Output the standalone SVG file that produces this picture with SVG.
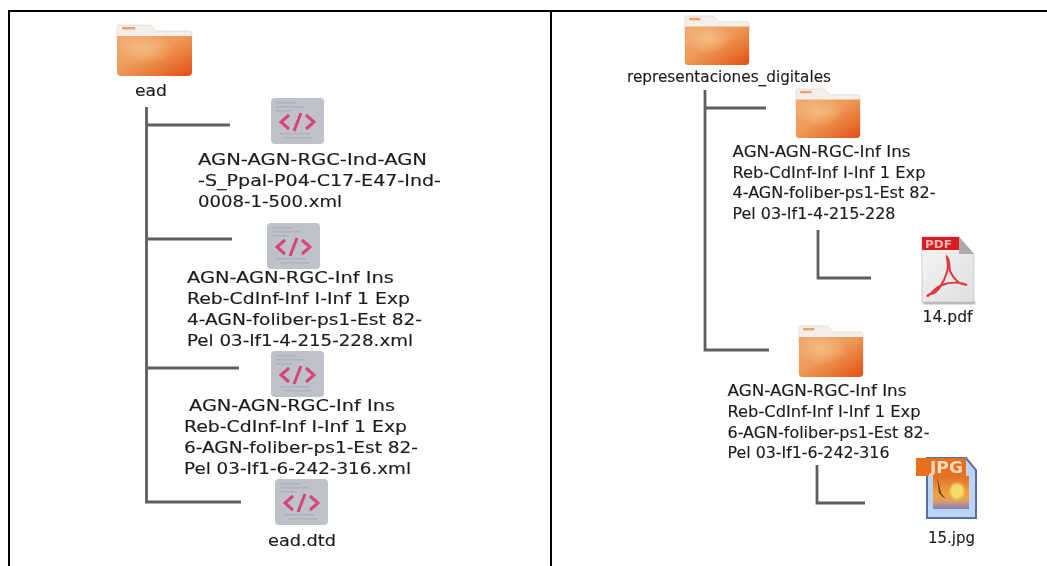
<svg xmlns="http://www.w3.org/2000/svg" width="1047" height="566" viewBox="0 0 1047 566">
<style>
text{font-family:"DejaVu Sans",sans-serif;font-size:16px;fill:#1c1c1c;stroke:#1c1c1c;stroke-width:.15}
.c{stroke:#5e5e5e;stroke-width:2.800;fill:none}
.b{stroke:#000;stroke-width:2;fill:none}
.pg{fill:#bfc1cb}
.code{fill:none;stroke:#d8437f;stroke-width:3}
.t{fill:#aeb1bc}
</style>
<defs>
<filter id="soft" x="-2%" y="-2%" width="104%" height="104%"><feGaussianBlur stdDeviation="0.55"/></filter>
<filter id="soft2" x="-10%" y="-10%" width="120%" height="120%"><feGaussianBlur stdDeviation="0.8"/></filter>
<linearGradient id="fg" x1="0" y1="0" x2="1" y2="1"><stop offset="0" stop-color="#f0a871"/><stop offset=".45" stop-color="#ee9a58"/><stop offset=".7" stop-color="#e97a38"/><stop offset="1" stop-color="#e04f14"/></linearGradient>
<radialGradient id="gl" cx=".35" cy=".3" r=".4"><stop offset="0" stop-color="#f5c68c" stop-opacity=".75"/><stop offset="1" stop-color="#f5c68c" stop-opacity="0"/></radialGradient>
<linearGradient id="pdfg" x1="0" y1="0" x2="1" y2="1"><stop offset="0" stop-color="#f6f6f6"/><stop offset="1" stop-color="#dedede"/></linearGradient>
<linearGradient id="jg" x1="0" y1="0" x2="0" y2="1"><stop offset="0" stop-color="#e0702c"/><stop offset=".55" stop-color="#f2a23c"/><stop offset=".75" stop-color="#e0a060"/><stop offset="1" stop-color="#7f7cc4"/></linearGradient>
<symbol id="folder" viewBox="0 0 76 52" overflow="visible" preserveAspectRatio="none">
<path d="M2 1h32l6 6h32a3 3 0 0 1 3 3v8H1V2z" fill="#f3efeb" stroke="#ddd0c4" stroke-width=".6"/>
<rect x="6" y="3" width="13" height="2.500" fill="#eea26a"/>
<path d="M1 12h74v36a4 4 0 0 1-4 4H5a4 4 0 0 1-4-4z" fill="url(#fg)"/>
<path d="M1 12h74v36a4 4 0 0 1-4 4H5a4 4 0 0 1-4-4z" fill="url(#gl)"/>
</symbol>
<symbol id="xml" viewBox="0 0 53 46" overflow="visible">
<rect width="53" height="46" rx="4" class="pg"/>
<path class="t" d="M5 4h20v1.500H5zM5 8h28v1.500H5zM5 12h16v1.500H5zM9 35h30v1.500H9zM14 39h28v1.500H14z"/>
<path class="code" d="M18 17l-8 7 8 7M35 17l8 7-8 7M30 15l-7 18"/>
</symbol>
</defs>
<g id="frame"><path class="b" d="M9 566V11H1047M551 11V566"/></g>
<g filter="url(#soft)">
<g id="connectors">
<path class="c" d="M146.500 107V502H241M146.500 125H230M146.500 239H232M146.500 368H239"/>
<path class="c" d="M705 90V350H769M705 108H766M818 230V278H871M817 465V503H865"/>
</g>
<g id="ead"><use href="#folder" x="116" y="24" width="77" height="52"/><text x="135" y="96" textLength="32" lengthAdjust="spacingAndGlyphs">ead</text></g>
<g id="xml1"><use href="#xml" x="271" y="98" width="53" height="46"/><text x="198" y="165" textLength="229" lengthAdjust="spacingAndGlyphs">AGN-AGN-RGC-Ind-AGN</text><text x="198" y="186" textLength="243" lengthAdjust="spacingAndGlyphs">-S_Ppal-P04-C17-E47-Ind-</text><text x="198" y="207" textLength="144" lengthAdjust="spacingAndGlyphs">0008-1-500.xml</text></g>
<g id="xml2"><use href="#xml" x="267" y="223" width="53" height="46"/><text x="187" y="283" textLength="207" lengthAdjust="spacingAndGlyphs">AGN-AGN-RGC-Inf Ins</text><text x="187" y="304" textLength="223" lengthAdjust="spacingAndGlyphs">Reb-CdInf-Inf I-Inf 1 Exp</text><text x="187" y="325" textLength="235" lengthAdjust="spacingAndGlyphs">4-AGN-foliber-ps1-Est 82-</text><text x="187" y="346" textLength="226" lengthAdjust="spacingAndGlyphs">Pel 03-If1-4-215-228.xml</text></g>
<g id="xml3"><use href="#xml" x="271" y="351" width="53" height="46"/><text x="189" y="411" textLength="206" lengthAdjust="spacingAndGlyphs">AGN-AGN-RGC-Inf Ins</text><text x="184" y="432" textLength="223" lengthAdjust="spacingAndGlyphs">Reb-CdInf-Inf I-Inf 1 Exp</text><text x="184" y="453" textLength="234" lengthAdjust="spacingAndGlyphs">6-AGN-foliber-ps1-Est 82-</text><text x="184" y="474" textLength="227" lengthAdjust="spacingAndGlyphs">Pel 03-If1-6-242-316.xml</text></g>
<g id="dtd"><use href="#xml" x="275" y="479" width="53" height="46"/><text x="268" y="546" textLength="68" lengthAdjust="spacingAndGlyphs">ead.dtd</text></g>
<g id="repdig"><use href="#folder" x="684" y="15" width="66" height="50"/><text x="627" y="82" textLength="204" lengthAdjust="spacingAndGlyphs">representaciones_digitales</text></g>
<g id="f1"><use href="#folder" x="795" y="88" width="66" height="50"/><text x="732.500" y="157" textLength="178" lengthAdjust="spacingAndGlyphs">AGN-AGN-RGC-Inf Ins</text><text x="732.500" y="178" textLength="193" lengthAdjust="spacingAndGlyphs">Reb-CdInf-Inf I-Inf 1 Exp</text><text x="732.500" y="198" textLength="203" lengthAdjust="spacingAndGlyphs">4-AGN-foliber-ps1-Est 82-</text><text x="732.500" y="219" textLength="163" lengthAdjust="spacingAndGlyphs">Pel 03-If1-4-215-228</text></g>
<g id="pdf">
<path d="M923 304h52v-3h-52z" fill="#999" filter="url(#soft2)"/>
<path d="M922 237h37l15 17v48h-52z" fill="url(#pdfg)" stroke="#cfcfcf"/>
<path d="M959 237l15 17h-15z" fill="#a9a9a9"/>
<rect x="922" y="237" width="37" height="13" fill="#d81e20"/>
<text x="925" y="248" textLength="27" lengthAdjust="spacingAndGlyphs" style="font-size:11px;font-weight:bold;fill:#f3b8b8;stroke:none">PDF</text>
<path d="M931 294c7-1 13-12 16-22 2-6 0-12 0-15 3 3 2 10 3 14 3 7 9 14 17 14-7-3-17-3-25 0-6 2-10 8-14 11-2 0 1-2 3-2z" fill="none" stroke="#e2383a" stroke-width="2"/>
<text x="922.500" y="322" textLength="50" lengthAdjust="spacingAndGlyphs">14.pdf</text>
</g>
<g id="f2"><use href="#folder" x="798" y="325" width="66" height="52"/><text x="727.500" y="396" textLength="179" lengthAdjust="spacingAndGlyphs">AGN-AGN-RGC-Inf Ins</text><text x="727.500" y="417" textLength="193" lengthAdjust="spacingAndGlyphs">Reb-CdInf-Inf I-Inf 1 Exp</text><text x="727.500" y="438" textLength="202" lengthAdjust="spacingAndGlyphs">6-AGN-foliber-ps1-Est 82-</text><text x="727.500" y="458" textLength="162" lengthAdjust="spacingAndGlyphs">Pel 03-If1-6-242-316</text></g>
<g id="jpg">
<path d="M927 458h39l10 12v48h-49z" fill="#bcd4f6" stroke="#5570a8" stroke-width="2"/>
<rect x="933" y="476" width="36" height="33" fill="url(#jg)"/>
<ellipse cx="957" cy="491" rx="7" ry="8" fill="#f6dc6a" filter="url(#soft2)"/>
<path d="M937 476l4 17 5 6-3-2-4-4z" fill="#5a3a28"/>
<rect x="916" y="458" width="50" height="18" fill="#e86f1e"/>
<text x="930" y="473" textLength="33" lengthAdjust="spacingAndGlyphs" style="font-size:15px;font-weight:bold;fill:#f3dcc4;stroke:none">JPG</text>
<text x="928" y="543" textLength="47" lengthAdjust="spacingAndGlyphs">15.jpg</text>
</g>
</g>
</svg>
